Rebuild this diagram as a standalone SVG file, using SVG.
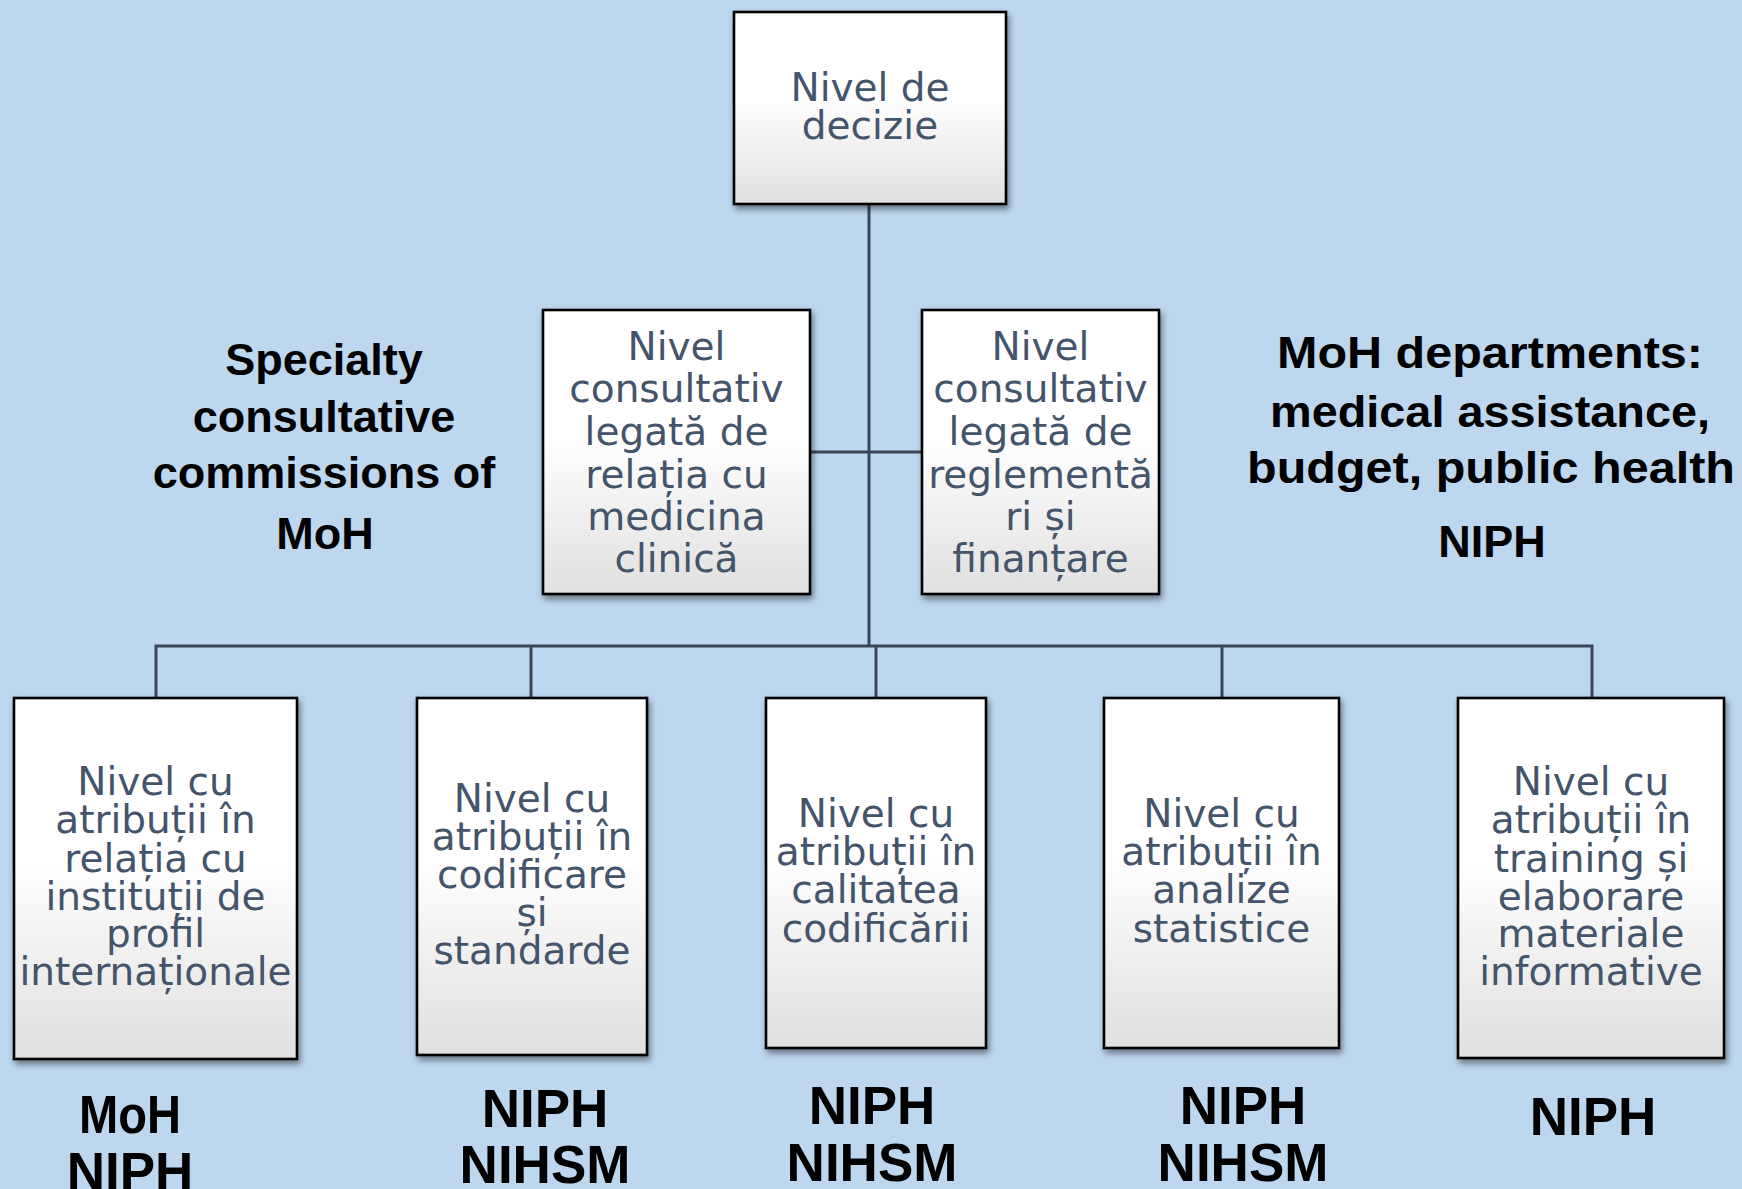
<svg xmlns="http://www.w3.org/2000/svg" width="1742" height="1189" viewBox="0 0 1742 1189">
<style>
.box{fill:url(#g);stroke:#000;stroke-width:2.6;filter:url(#sh)}
.bt{font-family:"DejaVu Sans",Verdana,sans-serif;font-size:39px;fill:#44546A;text-anchor:middle}
.lb{font-family:"Liberation Sans",Arial,sans-serif;font-weight:bold;font-size:45px;fill:#000;text-anchor:middle}
.lb2{font-family:"Liberation Sans",Arial,sans-serif;font-weight:bold;font-size:53px;fill:#000;text-anchor:middle}
.con{stroke:#3A4658;stroke-width:3;fill:none}
</style>
<defs>
<linearGradient id="g" x1="0" y1="0" x2="0" y2="1">
<stop offset="0" stop-color="#ffffff"/>
<stop offset="0.45" stop-color="#ffffff"/>
<stop offset="1" stop-color="#e0e0e0"/>
</linearGradient>
<filter id="sh" x="-10%" y="-10%" width="130%" height="130%">
<feDropShadow dx="2" dy="4" stdDeviation="3" flood-color="#000" flood-opacity="0.45"/>
</filter>
</defs>
<rect width="1742" height="1189" fill="#BDD7EE"/>
<g id="connectors">
<path class="con" d="M869 204 V646"/>
<path class="con" d="M810 452 H922"/>
<path class="con" d="M156 698 V646 H1592 V698"/>
<path class="con" d="M531 646 V698"/>
<path class="con" d="M876 646 V698"/>
<path class="con" d="M1222 646 V698"/>
</g>
<g id="n-decizie">
<rect class="box" x="734" y="12" width="272" height="192"/>
<text class="bt" x="870" y="101">Nivel de</text>
<text class="bt" x="870" y="139">decizie</text>
</g>
<g id="n-clinica">
<rect class="box" x="543" y="310" width="267" height="284"/>
<text class="bt" x="676.5" y="360">Nivel</text>
<text class="bt" x="676.5" y="402">consultativ</text>
<text class="bt" x="676.5" y="445">legată de</text>
<text class="bt" x="676.5" y="488">relația cu</text>
<text class="bt" x="676.5" y="530">medicina</text>
<text class="bt" x="676.5" y="572">clinică</text>
</g>
<g id="n-reglementari">
<rect class="box" x="922" y="310" width="237" height="284"/>
<text class="bt" x="1040.5" y="360">Nivel</text>
<text class="bt" x="1040.5" y="402">consultativ</text>
<text class="bt" x="1040.5" y="445">legată de</text>
<text class="bt" x="1040.5" y="488">reglementă</text>
<text class="bt" x="1040.5" y="530">ri și</text>
<text class="bt" x="1040.5" y="572">finanțare</text>
</g>
<g id="n-international">
<rect class="box" x="14" y="698" width="283" height="361"/>
<text class="bt" x="155.5" y="795">Nivel cu</text>
<text class="bt" x="155.5" y="833">atribuții în</text>
<text class="bt" x="155.5" y="872">relația cu</text>
<text class="bt" x="155.5" y="910">instituții de</text>
<text class="bt" x="155.5" y="947">profil</text>
<text class="bt" x="155.5" y="985">internaționale</text>
</g>
<g id="n-codificare">
<rect class="box" x="417" y="698" width="230" height="357"/>
<text class="bt" x="532" y="812">Nivel cu</text>
<text class="bt" x="532" y="850">atribuții în</text>
<text class="bt" x="532" y="888">codificare</text>
<text class="bt" x="532" y="926">și</text>
<text class="bt" x="532" y="964">standarde</text>
</g>
<g id="n-calitate">
<rect class="box" x="766" y="698" width="220" height="350"/>
<text class="bt" x="876" y="827">Nivel cu</text>
<text class="bt" x="876" y="865">atribuții în</text>
<text class="bt" x="876" y="903">calitatea</text>
<text class="bt" x="876" y="942">codificării</text>
</g>
<g id="n-statistice">
<rect class="box" x="1104" y="698" width="235" height="350"/>
<text class="bt" x="1221.5" y="827">Nivel cu</text>
<text class="bt" x="1221.5" y="865">atribuții în</text>
<text class="bt" x="1221.5" y="903">analize</text>
<text class="bt" x="1221.5" y="942">statistice</text>
</g>
<g id="n-training">
<rect class="box" x="1458" y="698" width="266" height="360"/>
<text class="bt" x="1591" y="795">Nivel cu</text>
<text class="bt" x="1591" y="833">atribuții în</text>
<text class="bt" x="1591" y="872">training și</text>
<text class="bt" x="1591" y="910">elaborare</text>
<text class="bt" x="1591" y="947">materiale</text>
<text class="bt" x="1591" y="985">informative</text>
</g>
<g id="labels">
<text class="lb" x="324" y="375">Specialty</text>
<text class="lb" x="324" y="432">consultative</text>
<text class="lb" x="324" y="488">commissions of</text>
<text class="lb" x="325" y="549">MoH</text>
<text class="lb" x="1490" y="368" textLength="426" lengthAdjust="spacingAndGlyphs">MoH departments:</text>
<text class="lb" x="1490" y="427" textLength="440" lengthAdjust="spacingAndGlyphs">medical assistance,</text>
<text class="lb" x="1491" y="483" textLength="488" lengthAdjust="spacingAndGlyphs">budget, public health</text>
<text class="lb" x="1492" y="557">NIPH</text>
<text class="lb2" x="130" y="1133" textLength="102" lengthAdjust="spacingAndGlyphs">MoH</text>
<text class="lb2" x="130" y="1190">NIPH</text>
<text class="lb2" x="545" y="1127">NIPH</text>
<text class="lb2" x="545" y="1183">NIHSM</text>
<text class="lb2" x="872" y="1124">NIPH</text>
<text class="lb2" x="872" y="1181">NIHSM</text>
<text class="lb2" x="1243" y="1124">NIPH</text>
<text class="lb2" x="1243" y="1181">NIHSM</text>
<text class="lb2" x="1593" y="1135">NIPH</text>
</g>
</svg>
